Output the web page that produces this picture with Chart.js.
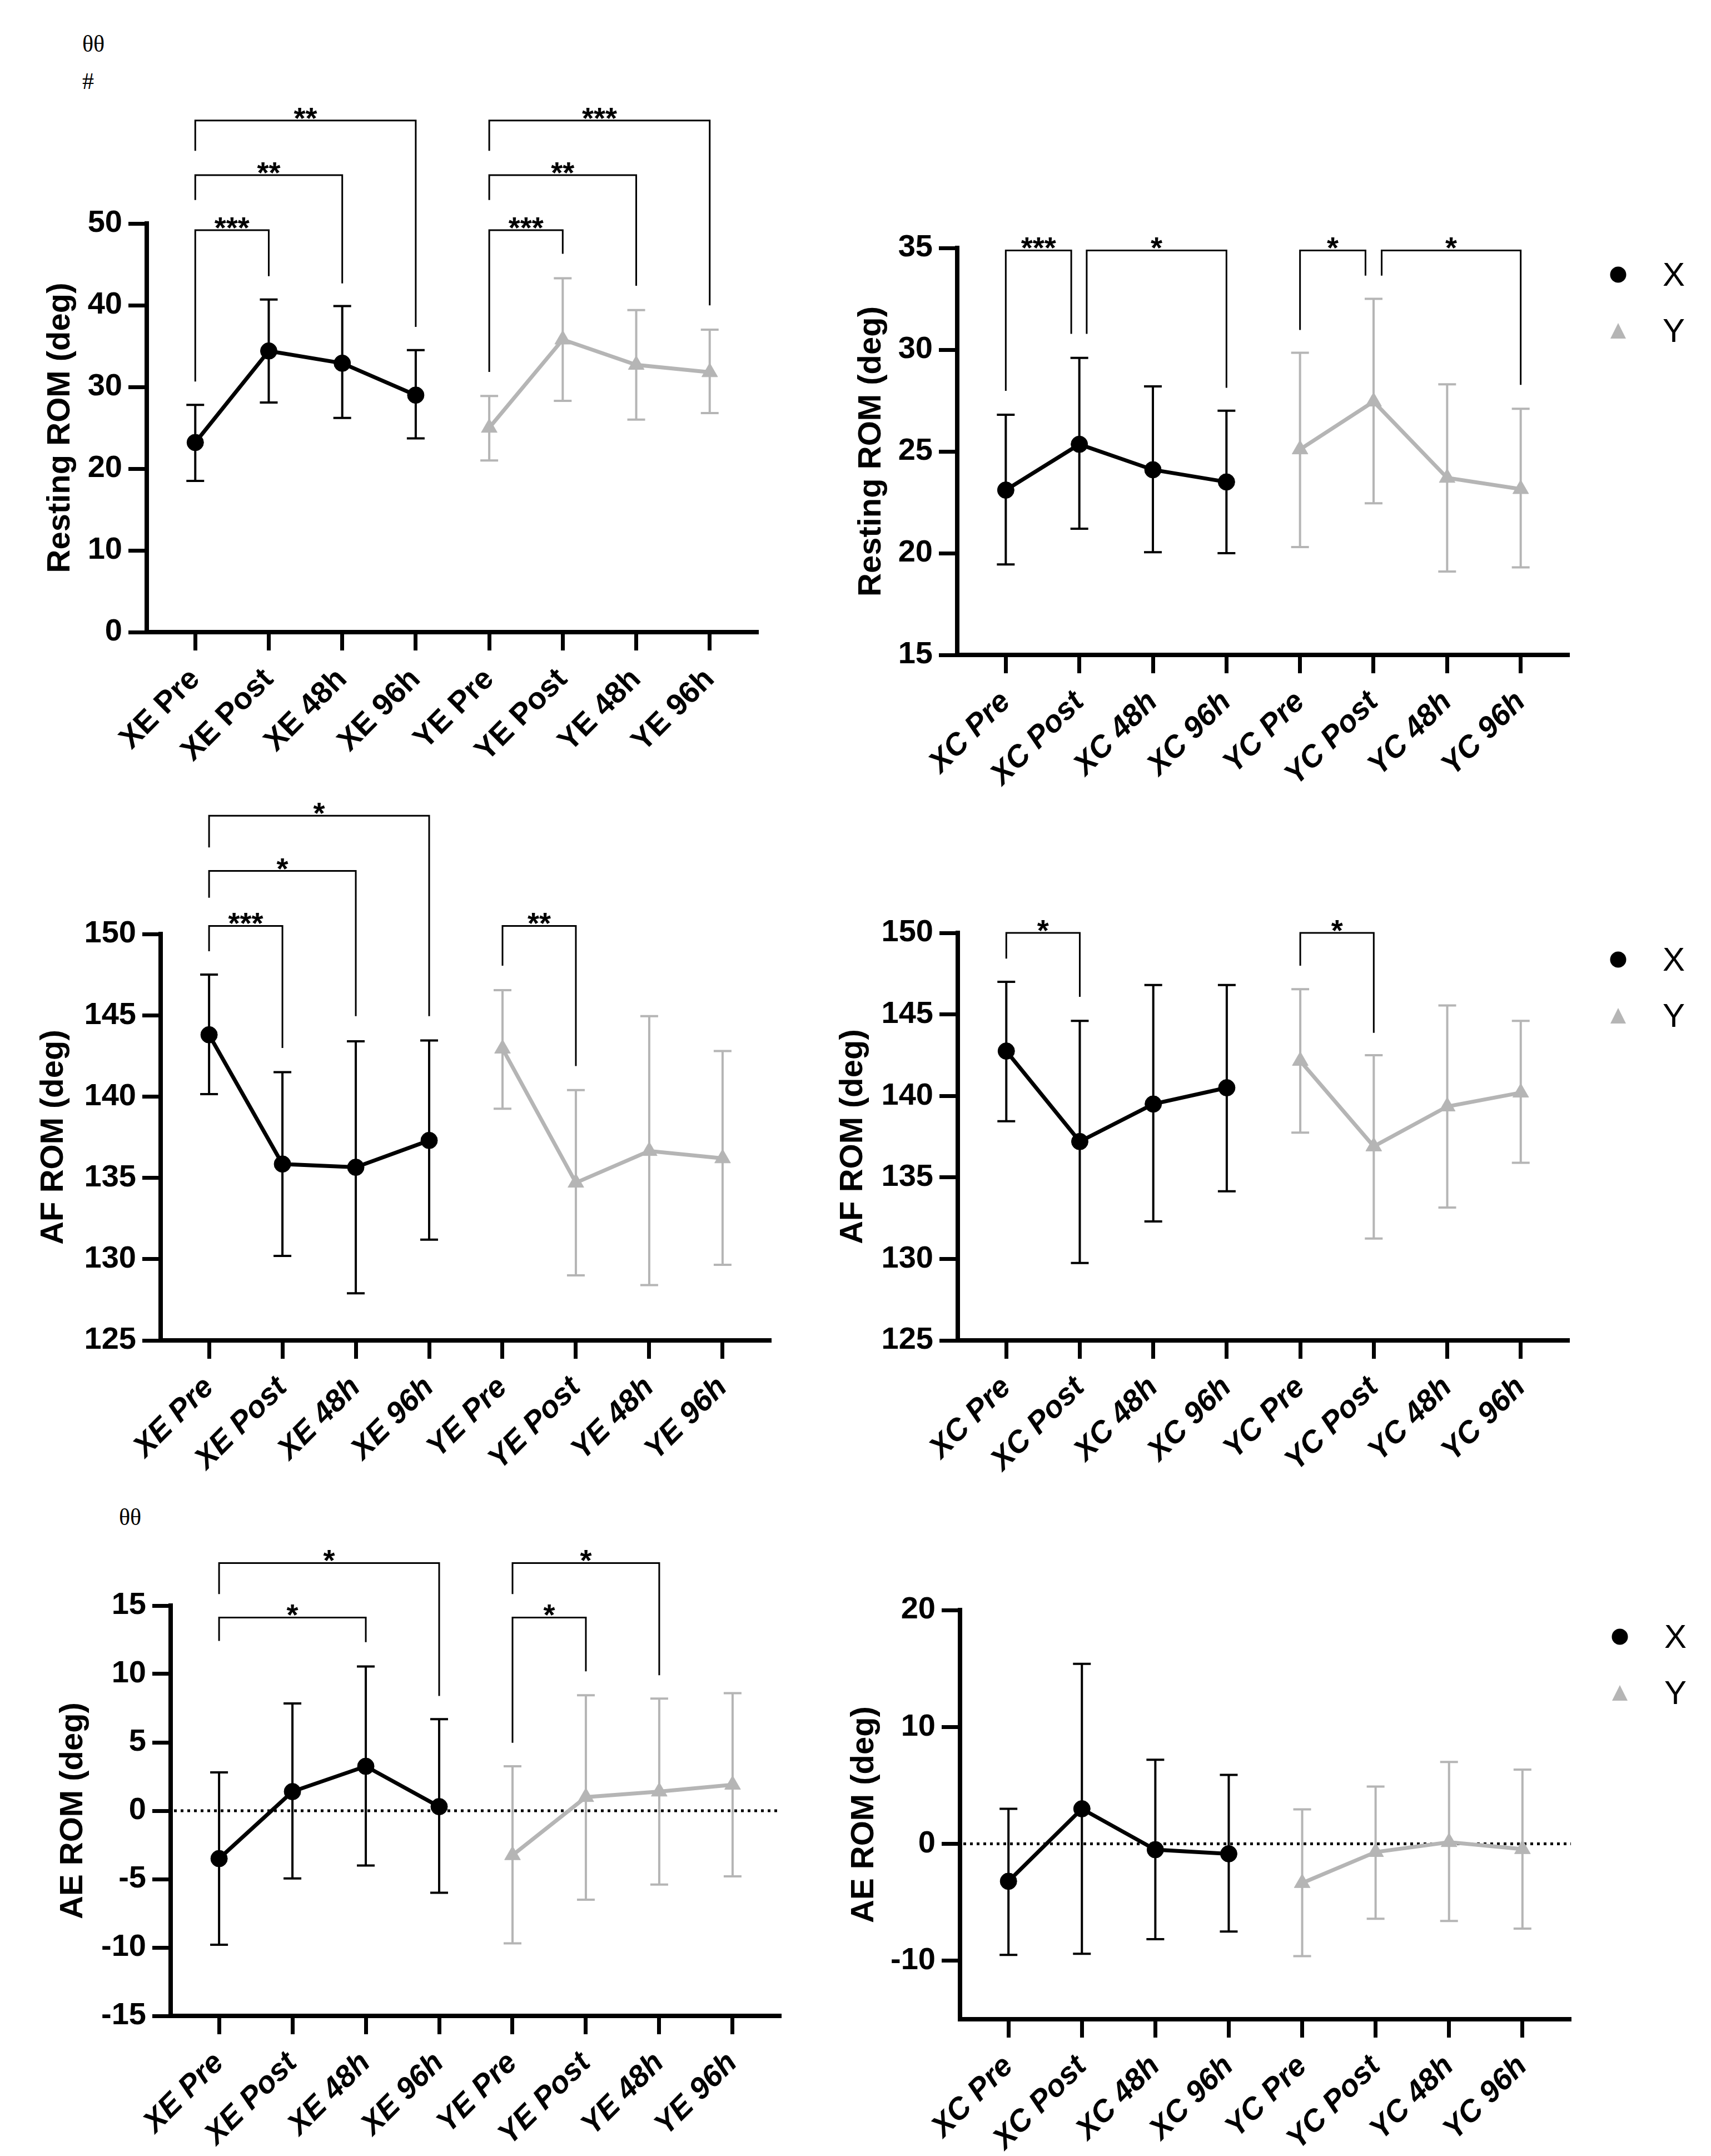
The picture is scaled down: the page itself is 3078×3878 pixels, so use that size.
<!DOCTYPE html>
<html>
<head>
<meta charset="utf-8">
<script src="https://cdn.jsdelivr.net/npm/chart.js@4.4.1/dist/chart.umd.min.js"></script>
<style>
  body { margin: 0; background: #fff; width: 3078px; height: 3878px; position: relative; overflow: hidden; }
  canvas { position: absolute; }
  .note { position: absolute; font-family: "Liberation Serif", "DejaVu Serif", serif; font-size: 42px; line-height: 1; color: #000; }
</style>
</head>
<body>
<div class="note" style="left:148px;top:58px">θθ</div>
<div class="note" style="left:148px;top:125px">#</div>
<div class="note" style="left:214px;top:2708px">θθ</div>

<canvas id="p1"></canvas>
<canvas id="p2"></canvas>
<canvas id="p3"></canvas>
<canvas id="p4"></canvas>
<canvas id="p5"></canvas>
<canvas id="p6"></canvas>

<script>
// category labels
const labelsE = ["XE Pre", "XE Post", "XE 48h", "XE 96h", "YE Pre", "YE Post", "YE 48h", "YE 96h"];
const labelsC = ["XC Pre", "XC Post", "XC 48h", "XC 96h", "YC Pre", "YC Post", "YC 48h", "YC 96h"];

// Resting ROM, exercise groups (mean, upper and lower whisker)
const restE_X = [23.2, 34.4, 32.9, 29.0];
const restE_X_hi = [27.8, 40.7, 39.9, 34.5];
const restE_X_lo = [18.5, 28.1, 26.2, 23.7];
const restE_Y = [25.0, 35.8, 32.7, 31.8];
const restE_Y_hi = [28.9, 43.3, 39.4, 37.0];
const restE_Y_lo = [21.0, 28.3, 26.0, 26.8];

// Resting ROM, control groups
const restC_X = [23.1, 25.35, 24.1, 23.5];
const restC_X_hi = [26.8, 29.6, 28.2, 27.0];
const restC_X_lo = [19.45, 21.2, 20.05, 20.0];
const restC_Y = [25.1, 27.45, 23.7, 23.15];
const restC_Y_hi = [29.85, 32.5, 28.3, 27.1];
const restC_Y_lo = [20.3, 22.45, 19.1, 19.3];

// AF ROM, exercise groups
const afE_X = [143.8, 135.85, 135.65, 137.3];
const afE_X_hi = [147.5, 141.5, 143.4, 143.45];
const afE_X_lo = [140.15, 130.2, 127.9, 131.2];
const afE_Y = [142.95, 134.7, 136.65, 136.2];
const afE_Y_hi = [146.55, 140.4, 144.95, 142.8];
const afE_Y_lo = [139.25, 129.0, 128.4, 129.65];

// AF ROM, control groups
const afC_X = [142.75, 137.2, 139.5, 140.5];
const afC_X_hi = [147.0, 144.6, 146.8, 146.8];
const afC_X_lo = [138.45, 129.75, 132.3, 134.15];
const afC_Y = [142.15, 136.9, 139.35, 140.2];
const afC_Y_hi = [146.55, 142.5, 145.55, 144.6];
const afC_Y_lo = [137.75, 131.25, 133.15, 135.9];

// AE ROM, exercise groups
const aeE_X = [-3.5, 1.4, 3.25, 0.3];
const aeE_X_hi = [2.8, 7.85, 10.55, 6.7];
const aeE_X_lo = [-9.8, -4.95, -4.0, -6.0];
const aeE_Y = [-3.25, 1.0, 1.4, 1.9];
const aeE_Y_hi = [3.25, 8.45, 8.2, 8.6];
const aeE_Y_lo = [-9.7, -6.5, -5.4, -4.8];

// AE ROM, control groups
const aeC_X = [-3.2, 3.0, -0.5, -0.85];
const aeC_X_hi = [3.0, 15.4, 7.2, 5.9];
const aeC_X_lo = [-9.5, -9.4, -8.15, -7.5];
const aeC_Y = [-3.35, -0.7, 0.15, -0.45];
const aeC_Y_hi = [2.95, 4.9, 7.0, 6.35];
const aeC_Y_lo = [-9.6, -6.4, -6.6, -7.25];

// significance brackets: [from, to, bar level, left leg end, right leg end, label]
const bracketsRestE = [
  [0, 1, 49.18, 30.66, 43.55, "***"],
  [0, 2, 55.92, 52.87, 42.67, "**"],
  [0, 3, 62.6, 58.9, 37.34, "**"],
  [4, 5, 49.18, 31.83, 46.3, "***"],
  [4, 6, 55.92, 52.87, 42.38, "**"],
  [4, 7, 62.6, 58.9, 39.98, "***"]
];
const bracketsRestC = [
  [0, 0.89, 34.88, 27.98, 30.78, "***"],
  [1.1, 3, 34.88, 30.78, 28.13, "*"],
  [4, 4.89, 34.88, 30.97, 33.64, "*"],
  [5.11, 7, 34.88, 33.64, 28.27, "*"]
];
const bracketsAfE = [
  [0, 1, 150.5, 148.94, 142.99, "***"],
  [0, 2, 153.88, 152.23, 144.95, "*"],
  [0, 3, 157.28, 155.33, 144.95, "*"],
  [4, 5, 150.5, 148.05, 141.88, "**"]
];
const bracketsAfC = [
  [0, 1, 150, 148.42, 146.08, "*"],
  [4, 5, 150, 147.99, 143.87, "*"]
];
const bracketsAeE = [
  [0, 2, 14.13, 12.42, 12.33, "*"],
  [0, 3, 18.11, 15.84, 8.39, "*"],
  [4, 5, 14.13, 4.97, 10.19, "*"],
  [4, 6, 18.11, 15.84, 9.91, "*"]
];

const BLACK = "#000000";
const GREY = "#b5b5b5";
const FONT = "'Liberation Sans', Arial, sans-serif";

Chart.defaults.font.family = FONT;
Chart.defaults.color = BLACK;

// whiskers drawn under the points
const errorBars = {
  id: "errorBars",
  beforeDatasetsDraw(chart) {
    const { ctx, scales: { x, y } } = chart;
    chart.data.datasets.forEach(ds => {
      ctx.save();
      ctx.strokeStyle = ds.borderColor;
      ctx.lineWidth = 4;
      ds.data.forEach((p, i) => {
        const px = x.getPixelForValue(p.x);
        const top = y.getPixelForValue(ds.hi[i]);
        const bot = y.getPixelForValue(ds.lo[i]);
        ctx.beginPath();
        ctx.moveTo(px, top); ctx.lineTo(px, bot);
        ctx.moveTo(px - 16, top); ctx.lineTo(px + 16, top);
        ctx.moveTo(px - 16, bot); ctx.lineTo(px + 16, bot);
        ctx.stroke();
      });
      ctx.restore();
    });
  }
};

// dotted line at zero
const zeroLine = {
  id: "zeroLine",
  beforeDatasetsDraw(chart, args, opts) {
    if (!opts.show) return;
    const { ctx, chartArea, scales: { y } } = chart;
    const py = y.getPixelForValue(0);
    ctx.save();
    ctx.strokeStyle = BLACK;
    ctx.lineWidth = 5;
    ctx.setLineDash([5, 7]);
    ctx.beginPath();
    ctx.moveTo(chartArea.left + 6, py);
    ctx.lineTo(chartArea.right, py);
    ctx.stroke();
    ctx.restore();
  }
};

// significance brackets with stars
const brackets = {
  id: "brackets",
  afterDatasetsDraw(chart, args, opts) {
    if (!opts.items) return;
    const { ctx, scales: { x, y } } = chart;
    ctx.save();
    ctx.strokeStyle = BLACK;
    ctx.fillStyle = BLACK;
    ctx.lineWidth = 3;
    ctx.font = "bold 54px " + FONT;
    ctx.textAlign = "center";
    ctx.textBaseline = "alphabetic";
    opts.items.forEach(([from, to, level, leftEnd, rightEnd, label]) => {
      const x1 = x.getPixelForValue(from), x2 = x.getPixelForValue(to);
      const yl = y.getPixelForValue(level);
      ctx.beginPath();
      ctx.moveTo(x1, y.getPixelForValue(leftEnd));
      ctx.lineTo(x1, yl);
      ctx.lineTo(x2, yl);
      ctx.lineTo(x2, y.getPixelForValue(rightEnd));
      ctx.stroke();
      ctx.fillText(label, (x1 + x2) / 2, yl + 14);
    });
    ctx.restore();
  }
};

// legend to the right of the plot
const sideLegend = {
  id: "sideLegend",
  afterDraw(chart, args, opts) {
    if (!opts.show) return;
    const { ctx, chartArea } = chart;
    ctx.save();
    ctx.font = "60px " + FONT;
    ctx.textBaseline = "middle";
    ctx.textAlign = "left";
    chart.data.datasets.forEach((ds, i) => {
      const cx = chartArea.right + 88;
      const cy = chartArea.top + 48 + i * 101;
      ctx.fillStyle = ds.backgroundColor;
      ctx.beginPath();
      if (ds.pointStyle === "triangle") {
        ctx.moveTo(cx, cy - 14);
        ctx.lineTo(cx + 14, cy + 14);
        ctx.lineTo(cx - 14, cy + 14);
        ctx.closePath();
      } else {
        ctx.arc(cx, cy, 14.5, 0, Math.PI * 2);
      }
      ctx.fill();
      ctx.fillStyle = BLACK;
      ctx.fillText(ds.label, chartArea.right + 168, cy + 3);
    });
    ctx.restore();
  }
};

function series(label, vals, hi, lo, start, color, style) {
  return {
    label: label,
    data: vals.map((v, i) => ({ x: start + i, y: v })),
    hi: hi,
    lo: lo,
    borderColor: color,
    backgroundColor: color,
    borderWidth: 7,
    pointStyle: style,
    pointRadius: style === "triangle" ? 16.5 : 15,
    pointBorderWidth: 1,
    tension: 0
  };
}

function makePanel(p) {
  const canvas = document.getElementById(p.id);
  canvas.width = p.w;
  canvas.height = p.h;
  canvas.style.left = p.l + "px";
  canvas.style.top = p.t + "px";
  canvas.style.width = p.w + "px";
  canvas.style.height = p.h + "px";

  return new Chart(canvas.getContext("2d"), {
    type: "line",
    data: {
      datasets: [
        series("X", p.xVals, p.xHi, p.xLo, 0, BLACK, "circle"),
        series("Y", p.yVals, p.yHi, p.yLo, 4, GREY, "triangle")
      ]
    },
    options: {
      responsive: false,
      animation: false,
      devicePixelRatio: 1,
      layout: { padding: { top: p.padTop, right: p.padRight, left: 0, bottom: 0 } },
      scales: {
        x: {
          type: "linear",
          min: -0.66,
          max: 7.66,
          afterBuildTicks: s => { s.ticks = [0, 1, 2, 3, 4, 5, 6, 7].map(v => ({ value: v })); },
          afterFit: s => { s.height = p.xH; },
          border: { display: true, color: BLACK, width: 8 },
          grid: { drawOnChartArea: false, drawTicks: true, tickLength: 33, tickWidth: 7, tickColor: BLACK, color: BLACK },
          ticks: {
            autoSkip: false,
            minRotation: 45,
            maxRotation: 45,
            padding: 20,
            color: BLACK,
            font: { size: 55, weight: "bold", style: p.upright ? "normal" : "italic" },
            callback: v => p.labels[v]
          }
        },
        y: {
          min: p.yMin,
          max: p.yMax,
          afterBuildTicks: s => { s.ticks = p.yTicks.map(v => ({ value: v })); },
          afterFit: s => { s.width = p.yW; },
          border: { display: true, color: BLACK, width: 8 },
          grid: { drawOnChartArea: false, drawTicks: true, tickLength: 33, tickWidth: 7, tickColor: BLACK, color: BLACK },
          ticks: { padding: 11, color: BLACK, font: { size: 56, weight: "bold" } },
          title: {
            display: true,
            text: p.title,
            color: BLACK,
            padding: 0,
            font: { size: 58, weight: "bold" }
          }
        }
      },
      plugins: {
        legend: { display: false },
        tooltip: { enabled: false },
        zeroLine: { show: !!p.zero },
        brackets: { items: p.brackets },
        sideLegend: { show: !!p.legend }
      }
    },
    plugins: [errorBars, zeroLine, brackets, sideLegend]
  });
}

const panels = [
  { id: "p1", l: 74, t: 120, w: 1346, h: 1260, padTop: 282, padRight: 56, yW: 190, xH: 243, upright: true,
    labels: labelsE, title: "Resting ROM (deg)", yMin: 0, yMax: 50, yTicks: [0, 10, 20, 30, 40, 50],
    xVals: restE_X, xHi: restE_X_hi, xLo: restE_X_lo, yVals: restE_Y, yHi: restE_Y_hi, yLo: restE_Y_lo,
    brackets: bracketsRestE },
  { id: "p2", l: 1533, t: 360, w: 1545, h: 1060, padTop: 86, padRight: 255, yW: 189, xH: 242,
    labels: labelsC, title: "Resting ROM (deg)", yMin: 15, yMax: 35, yTicks: [15, 20, 25, 30, 35],
    xVals: restC_X, xHi: restC_X_hi, xLo: restC_X_lo, yVals: restC_Y, yHi: restC_Y_hi, yLo: restC_Y_lo,
    brackets: bracketsRestC, legend: true },
  { id: "p3", l: 62, t: 1400, w: 1378, h: 1270, padTop: 280, padRight: 53, yW: 227, xH: 259,
    labels: labelsE, title: "AF ROM (deg)", yMin: 125, yMax: 150, yTicks: [125, 130, 135, 140, 145, 150],
    xVals: afE_X, xHi: afE_X_hi, xLo: afE_X_lo, yVals: afE_Y, yHi: afE_Y_hi, yLo: afE_Y_lo,
    brackets: bracketsAfE },
  { id: "p4", l: 1500, t: 1590, w: 1578, h: 1080, padTop: 88, padRight: 255, yW: 223, xH: 259,
    labels: labelsC, title: "AF ROM (deg)", yMin: 125, yMax: 150, yTicks: [125, 130, 135, 140, 145, 150],
    xVals: afC_X, xHi: afC_X_hi, xLo: afC_X_lo, yVals: afC_Y, yHi: afC_Y_hi, yLo: afC_Y_lo,
    brackets: bracketsAfC, legend: true },
  { id: "p5", l: 97, t: 2755, w: 1363, h: 1123, padTop: 133, padRight: 55, yW: 210, xH: 252,
    labels: labelsE, title: "AE ROM (deg)", yMin: -15, yMax: 15, yTicks: [-15, -10, -5, 0, 5, 10, 15],
    xVals: aeE_X, xHi: aeE_X_hi, xLo: aeE_X_lo, yVals: aeE_Y, yHi: aeE_Y_hi, yLo: aeE_Y_lo,
    brackets: bracketsAeE, zero: true },
  { id: "p6", l: 1520, t: 2800, w: 1558, h: 1078, padTop: 96, padRight: 252, yW: 207, xH: 246,
    labels: labelsC, title: "AE ROM (deg)", yMin: -15, yMax: 20, yTicks: [-10, 0, 10, 20],
    xVals: aeC_X, xHi: aeC_X_hi, xLo: aeC_X_lo, yVals: aeC_Y, yHi: aeC_Y_hi, yLo: aeC_Y_lo,
    brackets: null, zero: true, legend: true }
];

panels.forEach(makePanel);
</script>
</body>
</html>
